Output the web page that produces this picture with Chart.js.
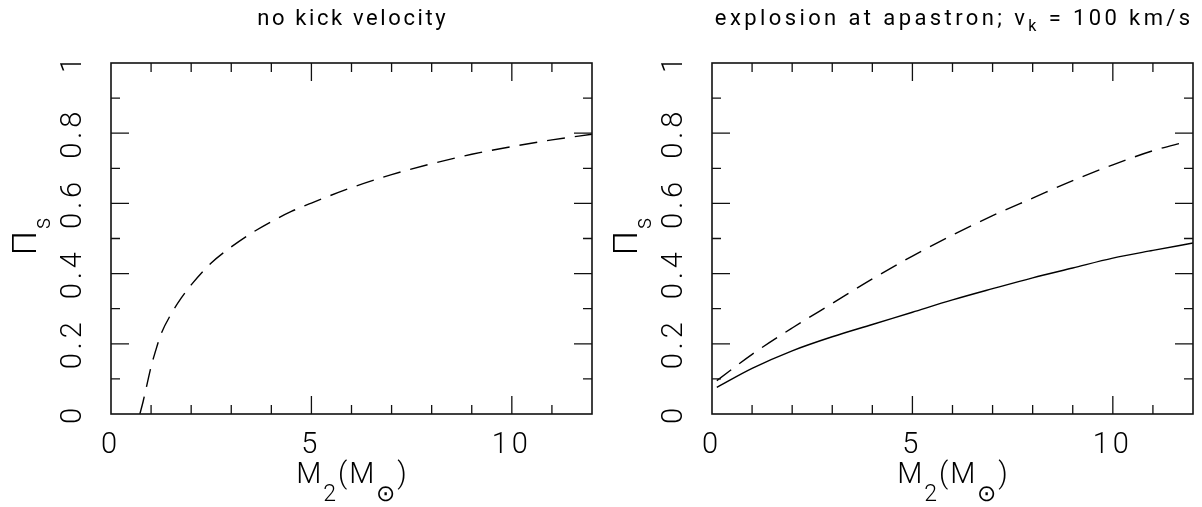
<!DOCTYPE html>
<html><head><meta charset="utf-8">
<script src="https://cdn.jsdelivr.net/npm/chart.js@4.4.1/dist/chart.umd.min.js"></script>
<style>
html,body{margin:0;padding:0;background:#fff;}
#wrap{display:flex;width:1202px;height:507px;}
.box{position:relative;width:601px;height:507px;}
canvas{display:block;}
</style></head><body>
<div id="wrap">
  <div class="box"><canvas id="c1" width="601" height="507"></canvas></div>
  <div class="box"><canvas id="c2" width="601" height="507"></canvas></div>
</div>
<script>
// ---- data ----
// left panel: no kick velocity (dashed)
const massNoKick = [0.72, 0.8, 0.9, 1.0, 1.1, 1.25, 1.5, 1.75, 2.0, 2.5, 3.0, 3.5, 4.0, 4.5, 5.0, 6.0, 7.0, 8.0, 9.0, 10.0, 11.0, 12.0];
const piNoKick   = [0.0, 0.035, 0.085, 0.135, 0.175, 0.228, 0.285, 0.33, 0.368, 0.43, 0.476, 0.515, 0.548, 0.577, 0.601, 0.645, 0.682, 0.713, 0.740, 0.762, 0.781, 0.797];
// right panel: explosion at apastron, vk = 100 km/s
const massKickDashed = [0.12, 1, 2, 3, 4, 5, 6, 7, 8, 9, 10, 11, 11.8];
const piKickDashed   = [0.095, 0.17, 0.245, 0.315, 0.385, 0.45, 0.51, 0.565, 0.615, 0.665, 0.71, 0.75, 0.775];
const massKickSolid  = [0.12, 1, 2, 3, 4, 5, 6, 7, 8, 9, 10, 11, 12];
const piKickSolid    = [0.076, 0.13, 0.18, 0.22, 0.255, 0.29, 0.325, 0.357, 0.388, 0.416, 0.444, 0.466, 0.487];
// axes
const xRange = [0, 12];
const yRange = [0, 1];
const xTickLabels = [0, 5, 10];
const yTickLabels = [0, 0.2, 0.4, 0.6, 0.8, 1];
const xMajorTicks = [5, 10];
const xMinorTicks = [1, 2, 3, 4, 6, 7, 8, 9, 11];
const yMajorTicks = [0.2, 0.4, 0.6, 0.8];
const yMinorTicks = [0.1, 0.3, 0.5, 0.7, 0.9];
// texts
const leftTitle  = [{t: 'no kick velocity'}];
const rightTitle = [{t: 'explosion at apastron; v'}, {t: 'k', sub: true}, {t: ' = 100 km/s'}];
const xAxisTitle = [{t: 'M'}, {t: '2', sub: true}, {t: '(M'}, {t: '\u2299', sub: true}, {t: ')'}];
const yAxisTitle = [{t: '\u03A0'}, {t: 's', sub: true}];

const FAMILY = 'Roboto, "DejaVu Sans", sans-serif';
const INK = '#000';

function font(size, weight) { return (weight || 300) + ' ' + size + 'px ' + FAMILY; }

function drawRich(ctx, parts, cx, baseY, st) {
  ctx.textAlign = 'left';
  ctx.textBaseline = 'alphabetic';
  ctx.letterSpacing = st.ls + 'px';
  const widths = parts.map(p => { ctx.font = font(p.sub ? st.sub : st.size, st.weight); return ctx.measureText(p.t).width; });
  const total = widths.reduce((a, b) => a + b, 0) - st.ls;
  let x = cx - total / 2;
  parts.forEach((p, i) => {
    ctx.font = font(p.sub ? st.sub : st.size, st.weight);
    ctx.fillText(p.t, x, baseY + (p.sub ? st.drop : 0));
    x += widths[i];
  });
}

const framePlugin = {
  id: 'frame',
  beforeDraw(chart) { chart.ctx.letterSpacing = '4px'; },
  afterDatasetsDraw(chart) {
    const ctx = chart.ctx, a = chart.chartArea, xs = chart.scales.x, ys = chart.scales.y;
    ctx.save();
    ctx.strokeStyle = '#111';
    ctx.lineWidth = 1.6;
    ctx.strokeRect(a.left, a.top, a.right - a.left, a.bottom - a.top);
    ctx.lineWidth = 1.3;
    ctx.beginPath();
    const xt = (v, len) => { const p = xs.getPixelForValue(v); ctx.moveTo(p, a.bottom); ctx.lineTo(p, a.bottom - len); ctx.moveTo(p, a.top); ctx.lineTo(p, a.top + len); };
    const yt = (v, len) => { const p = ys.getPixelForValue(v); ctx.moveTo(a.left, p); ctx.lineTo(a.left + len, p); ctx.moveTo(a.right, p); ctx.lineTo(a.right - len, p); };
    xMinorTicks.forEach(v => xt(v, 9)); xMajorTicks.forEach(v => xt(v, 18));
    yMinorTicks.forEach(v => yt(v, 9)); yMajorTicks.forEach(v => yt(v, 18));
    ctx.stroke();
    ctx.restore();
  },
  afterDraw(chart, args, opts) {
    const ctx = chart.ctx, a = chart.chartArea;
    const cx = (a.left + a.right) / 2, cy = (a.top + a.bottom) / 2;
    ctx.save();
    ctx.fillStyle = INK;
    drawRich(ctx, opts.title, cx, 25, {size: 22, sub: 16, drop: 6, ls: opts.titleLs, weight: 400});
    drawRich(ctx, xAxisTitle, cx, 483, {size: 29, sub: 23, drop: 18, ls: 2, weight: 300});
    ctx.translate(36, cy - 2);
    ctx.rotate(-Math.PI / 2);
    drawRich(ctx, yAxisTitle, 0, 0, {size: 34, sub: 23, drop: 14, ls: 2, weight: 300});
    ctx.restore();
    ctx.letterSpacing = '0px';
  }
};

const fmt = v => String(Math.round(v * 10) / 10);

function makeChart(id, datasets, title, titleLs) {
  const tickFont = {family: FAMILY, size: 29, weight: 300};
  return new Chart(document.getElementById(id), {
    type: 'line',
    data: {datasets},
    plugins: [framePlugin],
    options: {
      responsive: false,
      animation: false,
      events: [],
      layout: {padding: {top: 63, right: 9, bottom: 0, left: 0}},
      elements: {point: {radius: 0}, line: {cubicInterpolationMode: 'monotone', borderWidth: 1.4, borderColor: INK}},
      plugins: {legend: {display: false}, tooltip: {enabled: false}, frame: {title, titleLs}},
      scales: {
        x: {
          type: 'linear', min: xRange[0], max: xRange[1],
          grid: {display: false, drawTicks: false}, border: {display: false},
          afterBuildTicks(s) { s.ticks = xTickLabels.map(v => ({value: v})); },
          ticks: {autoSkip: false, maxRotation: 0, padding: 14, color: INK, font: tickFont, callback: fmt},
          afterFit(s) { s.height = 93; }
        },
        y: {
          type: 'linear', min: yRange[0], max: yRange[1],
          grid: {display: false, drawTicks: false}, border: {display: false},
          afterBuildTicks(s) { s.ticks = yTickLabels.map(v => ({value: v})); },
          ticks: {autoSkip: false, minRotation: 90, maxRotation: 90, crossAlign: 'center', padding: 18, color: INK, font: tickFont, callback: fmt},
          afterFit(s) { s.width = 111; }
        }
      }
    }
  });
}

const pts = (xs, ys) => xs.map((x, i) => ({x, y: ys[i]}));

makeChart('c1', [
  {data: pts(massNoKick, piNoKick), borderColor: INK, borderWidth: 1.4, borderDash: [18, 10]}
], leftTitle, 2.6);

makeChart('c2', [
  {data: pts(massKickDashed, piKickDashed), borderColor: INK, borderWidth: 1.4, borderDash: [18, 10]},
  {data: pts(massKickSolid, piKickSolid), borderColor: INK, borderWidth: 1.4}
], rightTitle, 3.4);
</script>
</body></html>
